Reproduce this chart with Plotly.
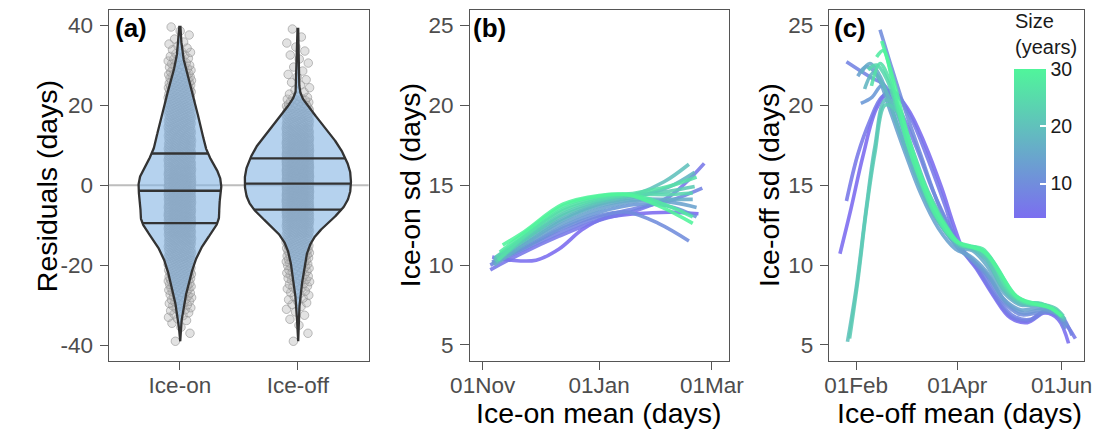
import numpy as np
import pandas as pd
import plotly.graph_objects as go
from plotly.colors import sample_colorscale

W, H = 1110, 430
FONT = "Liberation Sans, Arial, sans-serif"

# ---------------- (a) residual distributions ----------------
# residuals counted in 2-day classes (class centres, days)
resid_bins = list(range(-39, 40, 2))
ice_on_counts = [1, 1, 2, 5, 8, 11, 14, 19, 24, 28, 34, 42, 51, 64, 78, 89, 90, 87, 92, 94,
                 94, 88, 78, 66, 59, 54, 51, 47, 42, 37, 33, 28, 23, 18, 13, 9, 6, 4, 2, 2]
ice_off_counts = [1, 1, 1, 2, 3, 5, 6, 9, 12, 14, 17, 21, 27, 37, 54, 75, 96, 112, 120, 124,
                  124, 124, 118, 110, 101, 88, 73, 60, 43, 29, 13, 4, 3, 3, 2, 2, 2, 2, 1, 1]
groups = ["Ice-on", "Ice-off"]
ice_on_quartiles = [-9.5, -1.4, 7.9]
ice_off_quartiles = [-6.1, 0.4, 6.7]
resid_ticks = [-40, -20, 0, 20, 40]
resid_tick_text = ["-40", "-20", "0", "20", "40"]

# ---------------- (b) ice-on mean vs sd, by window size ----------------
ice_on_sizes = [4, 6, 8, 10, 12, 14, 16, 18, 20, 22, 24, 26, 28, 30]
# days after 01 Nov
ice_on_days = [
    [5, 15, 28, 40, 52, 63, 80, 100, 113],
    [4, 20, 40, 61, 80, 98, 116],
    [4, 20, 40, 61, 82, 100, 115],
    [5, 22, 42, 61, 76, 92, 108],
    [5, 22, 42, 61, 82, 100, 112],
    [6, 22, 42, 61, 82, 100, 112],
    [6, 22, 42, 61, 82, 98, 110],
    [6, 22, 42, 61, 82, 98, 111],
    [6, 22, 42, 61, 80, 95, 108],
    [7, 22, 42, 61, 80, 97, 111],
    [7, 22, 42, 61, 80, 97, 110],
    [8, 22, 42, 61, 80, 97, 112],
    [9, 22, 42, 61, 78, 95, 110],
    [10.5, 22, 42, 61, 76, 94, 110],
]
ice_on_sd = [
    [10.5, 10.3, 10.3, 11.0, 12.2, 12.9, 13.2, 13.3, 13.2],
    [9.7, 10.7, 11.8, 12.8, 13.4, 14.3, 16.35],
    [10.0, 10.9, 12.0, 13.0, 13.6, 14.1, 14.8],
    [10.2, 11.1, 12.3, 13.1, 13.3, 12.6, 11.5],
    [10.1, 11.1, 12.4, 13.3, 13.8, 13.6, 13.0],
    [10.2, 11.3, 12.6, 13.5, 14.0, 13.9, 13.6],
    [10.0, 11.3, 12.8, 13.7, 14.1, 14.1, 14.1],
    [10.3, 11.5, 12.9, 13.8, 14.3, 14.9, 15.8],
    [10.4, 11.6, 13.1, 13.9, 14.4, 15.2, 16.3],
    [10.2, 11.6, 13.2, 14.0, 14.4, 14.6, 14.9],
    [10.5, 11.8, 13.4, 14.1, 14.4, 14.4, 14.5],
    [10.3, 11.8, 13.5, 14.2, 14.5, 14.9, 15.5],
    [10.8, 12.0, 13.7, 14.3, 14.4, 13.8, 13.0],
    [11.25, 12.1, 13.8, 14.35, 14.4, 13.6, 12.6],
]

# ---------------- (c) ice-off mean vs sd, by window size ----------------
ice_off_sizes = [4, 6, 8, 10, 12, 14, 16, 18, 20, 22, 24, 26, 28, 30]
# days after 01 Feb
ice_off_days = [
    [-9.4, -3, 4, 12, 20, 30, 40, 50, 57, 63, 70, 80, 90, 100, 110, 118, 124],
    [-5.6, 1, 8, 15, 22, 32, 42, 52, 60, 70, 80, 90, 100, 110, 119, 128],
    [-5.6, 3, 9, 16, 25, 35, 45, 55, 62, 72, 82, 92, 102, 112, 120, 126],
    [14, 20, 28, 38, 48, 58, 66, 76, 86, 96, 106, 116, 122],
    [2.8, 9.4, 15, 22, 30, 40, 50, 60, 68, 78, 88, 98, 108, 118, 123],
    [1, 6, 12, 20, 28, 38, 48, 58, 66, 76, 86, 96, 106, 116, 121],
    [3, 8, 14, 22, 30, 40, 50, 60, 68, 76, 86, 96, 106, 116, 122],
    [5, 10, 16, 24, 32, 42, 52, 60, 68, 76, 86, 96, 106, 116, 121],
    [-5, 0, 6, 11, 17, 24, 32, 42, 52, 60, 68, 76, 86, 96, 106, 116, 122],
    [-3.8, 1, 6, 11, 17, 24, 32, 42, 52, 60, 68, 76, 86, 96, 106, 116, 121],
    [7, 12, 18, 26, 34, 44, 54, 62, 70, 78, 88, 98, 108, 118, 121],
    [9, 14, 20, 28, 36, 46, 56, 64, 72, 80, 90, 100, 110, 119],
    [12, 16, 22, 30, 38, 48, 58, 66, 74, 82, 92, 102, 112, 120],
    [15, 22, 30, 40, 50, 60, 68, 75, 84, 94, 104, 114, 120],
]
ice_off_sd = [
    [10.7, 13.5, 16.8, 19.8, 20.9, 19.8, 17.6, 14.8, 12.5, 10.8, 9.8, 8.1, 6.7, 6.4, 7.0, 6.6, 5.1],
    [14.0, 16.9, 19.0, 20.5, 20.8, 19.2, 16.6, 13.7, 11.2, 9.9, 8.2, 6.8, 6.5, 7.1, 6.7, 5.4],
    [22.7, 22.1, 21.7, 21.3, 19.8, 17.4, 14.6, 12.3, 10.9, 9.8, 8.0, 6.8, 6.6, 7.2, 6.8, 5.6],
    [24.7, 22.6, 19.9, 16.8, 13.8, 11.5, 10.5, 9.4, 7.7, 6.9, 7.0, 7.0, 6.0],
    [20.1, 20.5, 21.2, 20.0, 17.6, 14.8, 12.6, 11.0, 10.3, 9.2, 7.6, 7.0, 7.2, 6.9, 6.2],
    [21.8, 22.4, 21.9, 19.6, 17.2, 14.4, 12.3, 11.0, 10.6, 9.6, 7.9, 7.2, 7.3, 7.0, 6.5],
    [22.0, 22.6, 21.8, 19.4, 17.0, 14.3, 12.4, 11.1, 10.9, 10.0, 8.3, 7.5, 7.5, 7.1, 6.5],
    [21.0, 22.0, 21.2, 18.8, 16.4, 13.8, 12.1, 11.2, 11.0, 10.3, 8.5, 7.6, 7.5, 7.2, 6.7],
    [5.2, 8.5, 13.6, 17.4, 20.3, 19.8, 17.5, 14.6, 12.6, 11.3, 11.0, 10.4, 8.5, 7.6, 7.5, 7.2, 6.6],
    [5.4, 9.0, 13.4, 17.0, 20.0, 19.6, 17.2, 14.4, 12.5, 11.3, 11.1, 10.5, 8.6, 7.7, 7.6, 7.3, 6.8],
    [22.2, 22.5, 21.6, 19.0, 16.3, 13.6, 11.9, 11.2, 11.1, 10.5, 8.5, 7.7, 7.6, 7.0, 6.7],
    [21.2, 22.6, 21.4, 18.4, 15.8, 13.2, 11.7, 11.2, 11.0, 10.2, 8.3, 7.6, 7.5, 6.9],
    [23.0, 23.4, 21.0, 17.6, 15.2, 12.9, 11.5, 11.2, 11.0, 9.9, 8.2, 7.6, 7.4, 6.8],
    [24.0, 21.5, 18.2, 15.0, 12.8, 11.4, 11.1, 10.8, 9.5, 8.0, 7.6, 7.3, 6.8],
]

SIZE_MIN, SIZE_MAX = 4, 30
SIZE_SCALE = [[0.0, "#7B6EF0"], [1.0, "#50F59B"]]


def px_x(p):
    return p / W


def px_y(p):
    return 1 - p / H


def expand_bins(bins, counts):
    """Residual values: each class's members spread evenly over its 2-day width."""
    vals = []
    for c, n in zip(bins, counts):
        vals.extend(c - 1 + (np.arange(n) + 0.5) * 2.0 / n)
    return np.array(vals)


def kde(values, bw, n=500):
    grid = np.linspace(values.min(), values.max(), n)
    z = (grid[:, None] - values[None, :]) / bw
    dens = np.exp(-0.5 * z ** 2).sum(axis=1) / (len(values) * bw * np.sqrt(2 * np.pi))
    return grid, dens


def size_color(s):
    return sample_colorscale(SIZE_SCALE, [(s - SIZE_MIN) / (SIZE_MAX - SIZE_MIN)])[0]


fig = go.Figure()

# ---- panel (a) ----
resid = [expand_bins(resid_bins, ice_on_counts), expand_bins(resid_bins, ice_off_counts)]
quartiles = [ice_on_quartiles, ice_off_quartiles]
profiles = [kde(r, 1.4) for r in resid]
dens_max = max(p[1].max() for p in profiles)

# jittered raw residuals (drawn under the violins)
for i, r in enumerate(resid):
    k = np.arange(len(r))
    jit = ((k * 0.6180339887 + 0.31) % 1.0 - 0.5) * 0.2
    fig.add_trace(go.Scatter(
        x=(i + 1) + jit, y=r, mode="markers", xaxis="x", yaxis="y",
        marker=dict(size=8.5, color="rgba(185,185,185,0.42)",
                    line=dict(color="rgba(140,140,140,0.55)", width=1)),
        hoverinfo="skip"))

for i, (grid, dens) in enumerate(profiles):
    half = 0.45 * dens / dens_max
    cx = i + 1
    xs = np.concatenate([cx + half, (cx - half)[::-1], [cx + half[0]]])
    ys = np.concatenate([grid, grid[::-1], [grid[0]]])
    fig.add_trace(go.Scatter(
        x=xs, y=ys, mode="lines", fill="toself", xaxis="x", yaxis="y",
        fillcolor="rgba(135,183,228,0.62)",
        line=dict(color="#333333", width=2.3), hoverinfo="skip"))
    for q in quartiles[i]:
        hw = np.interp(q, grid, half)
        fig.add_trace(go.Scatter(
            x=[cx - hw, cx + hw], y=[q, q], mode="lines", xaxis="x", yaxis="y",
            line=dict(color="#333333", width=2.3), hoverinfo="skip"))

# ---- panel (b) ----
on_origin = pd.Timestamp("2000-11-01")
for s, d, v in zip(ice_on_sizes, ice_on_days, ice_on_sd):
    xs = [(on_origin + pd.Timedelta(days=t)).isoformat() for t in d]
    fig.add_trace(go.Scatter(
        x=xs, y=v, mode="lines", xaxis="x2", yaxis="y2", opacity=0.88,
        line=dict(color=size_color(s), width=3.6, shape="spline", smoothing=1.0),
        hoverinfo="skip"))

# ---- panel (c) ----
off_origin = pd.Timestamp("2001-02-01")
for s, d, v in zip(ice_off_sizes, ice_off_days, ice_off_sd):
    xs = [(off_origin + pd.Timedelta(days=t)).isoformat() for t in d]
    fig.add_trace(go.Scatter(
        x=xs, y=v, mode="lines", xaxis="x3", yaxis="y3", opacity=0.88,
        line=dict(color=size_color(s), width=3.6, shape="spline", smoothing=1.0),
        hoverinfo="skip"))

# colour bar for window size
fig.add_trace(go.Scatter(
    x=[None] * len(ice_off_sizes), y=[None] * len(ice_off_sizes), mode="markers",
    xaxis="x3", yaxis="y3", hoverinfo="skip",
    marker=dict(color=ice_off_sizes, cmin=SIZE_MIN, cmax=SIZE_MAX, colorscale=SIZE_SCALE,
                showscale=True,
                colorbar=dict(x=px_x(1026.7), xanchor="left", y=px_y(143.5), yanchor="middle",
                              thickness=31.5, thicknessmode="pixels",
                              len=149, lenmode="pixels", xpad=0, ypad=0,
                              outlinewidth=0, tickvals=[10, 20, 30],
                              ticks="inside", ticklen=6, tickcolor="white", tickwidth=1.5,
                              tickfont=dict(family=FONT, size=19.5, color="#1A1A1A")))))

axis_common = dict(showline=True, mirror=True, linecolor="#555555", linewidth=1.1,
                   ticks="outside", ticklen=8.5, tickwidth=1.2, tickcolor="#555555",
                   showgrid=False, zeroline=False,
                   tickfont=dict(family=FONT, size=22.5, color="#4D4D4D"))
x_common = dict(axis_common, ticklabelstandoff=-4)
y_common = dict(axis_common, ticklabelstandoff=2)
ydom = [px_y(360.5), px_y(10)]

fig.update_layout(
    width=W, height=H, margin=dict(l=0, r=0, t=0, b=0),
    paper_bgcolor="white", plot_bgcolor="white", showlegend=False,
    font=dict(family=FONT),
    xaxis=dict(x_common, domain=[px_x(92), px_x(360)], range=[0.4, 2.6],
               tickvals=[1, 2], ticktext=groups, anchor="y"),
    yaxis=dict(y_common, domain=ydom, range=[-43.8, 43.75],
               tickvals=resid_ticks, ticktext=resid_tick_text, anchor="x"),
    xaxis2=dict(x_common, domain=[px_x(464.3), px_x(732.3)], type="date",
                range=["2000-10-25 05:00", "2001-03-10 02:00"],
                tickvals=["2000-11-01", "2001-01-01", "2001-03-01"],
                ticktext=["01Nov", "01Jan", "01Mar"], anchor="y2"),
    yaxis2=dict(y_common, domain=ydom, range=[4.03, 25.94],
                tickvals=[5, 10, 15, 20, 25], anchor="x2"),
    xaxis3=dict(x_common, domain=[px_x(835.7), px_x(1099)], type="date",
                range=["2001-01-16 10:00", "2001-06-14 05:00"],
                tickvals=["2001-02-01", "2001-04-01", "2001-06-01"],
                ticktext=["01Feb", "01Apr", "01Jun"], anchor="y3"),
    yaxis3=dict(y_common, domain=ydom, range=[4.03, 25.94],
                tickvals=[5, 10, 15, 20, 25], anchor="x3"),
)

# zero reference line behind the violins
fig.add_shape(type="line", xref="x domain", yref="y", x0=0, x1=1, y0=0, y1=0,
              line=dict(color="#BDBDBD", width=2), layer="below")

title_font = dict(family=FONT, size=28.5, color="black")
notes = [
    dict(text="Residuals (days)", x=px_x(27.5), y=px_y(186.5), textangle=-90),
    dict(text="Ice-on sd (days)", x=px_x(403), y=px_y(185), textangle=-90),
    dict(text="Ice-off sd (days)", x=px_x(773.5), y=px_y(185), textangle=-90),
    dict(text="Ice-on mean (days)", x=px_x(598), y=px_y(412.5)),
    dict(text="Ice-off mean (days)", x=px_x(969.7), y=px_y(412.5)),
]
for n in notes:
    fig.add_annotation(xref="paper", yref="paper", showarrow=False, borderpad=0,
                       xanchor="center", yanchor="middle", font=title_font, **n)

for lab, xp in [("(a)", 96.7), ("(b)", 466.7), ("(c)", 839)]:
    fig.add_annotation(text=f"<b>{lab}</b>", xref="paper", yref="paper", showarrow=False,
                       x=px_x(xp), y=px_y(27.5), xanchor="left", yanchor="middle",
                       borderpad=0, font=dict(family=FONT, size=26, color="black"))

fig.add_annotation(text="Size<br>(years)", xref="paper", yref="paper", showarrow=False,
                   x=px_x(1026), y=px_y(9), xanchor="left", yanchor="top", align="left",
                   borderpad=0, font=dict(family=FONT, size=20, color="#1A1A1A"))

fig.write_html("out.html")
